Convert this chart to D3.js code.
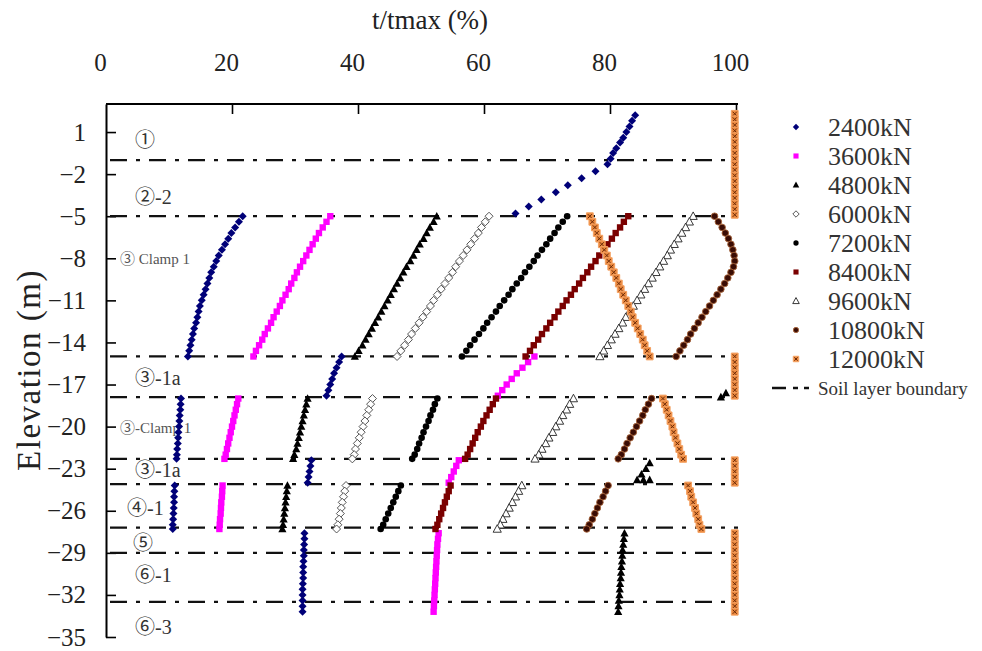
<!DOCTYPE html>
<html>
<head>
<meta charset="utf-8">
<script src="https://cdn.jsdelivr.net/npm/d3@7"></script>
<style>
  body { margin: 0; background: #fff; }
  svg { display: block; }
  svg text { font-family: "Liberation Serif", "Times New Roman", "Noto Sans CJK SC", serif; }
</style>
</head>
<body>
<svg width="982" height="651"></svg>
<script>
// ---- data ----
var loads = ['2400kN', '3600kN', '4800kN', '6000kN', '7200kN', '8400kN', '9600kN', '10800kN', '12000kN'];
var xTicks = [0, 20, 40, 60, 80, 100];
var yTicks = [1, -2, -5, -8, -11, -14, -17, -20, -23, -26, -29, -32, -35];
var boundaries = [-1.0, -5, -15, -17.9, -22.3, -24.1, -27.2, -29.0, -32.5];
var layerNames = ['①', '②-2', '③ Clamp 1', '③-1a', '③-Clamp 1', '③-1a', '④-1', '⑤', '⑥-1', '⑥-3'];
var layerElev = [0.4, -3.6, -8.0, -16.5, -20.1, -23.1, -25.8, -28.3, -30.6, -34.3];

// elevation of the measuring points (m)
var gTop2400 = [2.2, 1.8, 1.4, 1.0, 0.6, 0.25, -0.15, -0.5, -0.9, -1.3, -1.8, -2.3, -2.8, -3.3, -3.8, -4.3, -4.8];
var gTop12000 = [2.3, 1.9, 1.5, 1.1, 0.7, 0.3, -0.1, -0.5, -0.9, -1.3, -1.7, -2.1, -2.5, -2.9, -3.3, -3.7, -4.1, -4.5, -4.9];
var gL3 = [-5.0, -5.4, -5.8, -6.2, -6.6, -7.0, -7.4, -7.8, -8.2, -8.6, -9.0, -9.4, -9.8, -10.2, -10.6, -11.0, -11.4, -11.8, -12.2, -12.6, -13.0, -13.4, -13.8, -14.2, -14.6, -15.0];
var gL4 = [-15.0, -15.4, -15.8, -16.2, -16.6, -17.0, -17.4, -17.8];
var gL5 = [-18.0, -18.4, -18.8, -19.2, -19.6, -20.0, -20.4, -20.8, -21.2, -21.6, -22.0, -22.3];
var gL6 = [-22.4, -22.8, -23.2, -23.6, -24.0];
var gL7 = [-24.2, -24.6, -25.0, -25.4, -25.8, -26.2, -26.6, -27.0, -27.3];
var gL89 = [-27.6, -28.0, -28.4, -28.8, -29.2, -29.6, -30.0, -30.4, -30.8, -31.2, -31.6, -32.0, -32.4, -32.8, -33.2];
var g4800L4 = [-17.6, -17.9];
var g4800L6 = [-22.6, -23.0, -23.4, -23.8, -23.8, -23.8];

// t/tmax (%) for each load, one list per layer
var s2400 = [
  [gTop2400, [84.0, 83.5, 83.1, 82.6, 82.1, 81.6, 81.0, 80.5, 80.1, 79.6, 77.7, 75.5, 73.3, 71.4, 69.1, 67.1, 65.0]],
  [gL3, [21.7, 21.1, 20.5, 19.9, 19.4, 18.9, 18.4, 17.9, 17.5, 17.1, 16.7, 16.4, 16.1, 15.8, 15.5, 15.2, 14.9, 14.7, 14.5, 14.3, 14.0, 13.8, 13.6, 13.4, 13.2, 13.0]],
  [gL4, [37.4, 37.0, 36.6, 36.2, 35.9, 35.6, 35.3, 35.0]],
  [gL5, [11.9, 11.85, 11.8, 11.7, 11.65, 11.6, 11.5, 11.45, 11.4, 11.3, 11.25, 11.2]],
  [gL6, [32.6, 32.45, 32.3, 32.15, 32.0]],
  [gL7, [10.9, 10.85, 10.8, 10.8, 10.75, 10.7, 10.65, 10.6, 10.6]],
  [gL89, [31.5, 31.5, 31.45, 31.4, 31.4, 31.35, 31.3, 31.3, 31.3, 31.25, 31.2, 31.2, 31.2, 31.2, 31.2]]
];
var s3600 = [
  [gL3, [35.6, 35.0, 34.4, 33.8, 33.3, 32.8, 32.3, 31.8, 31.3, 30.8, 30.3, 29.9, 29.4, 29.0, 28.5, 28.0, 27.6, 27.1, 26.6, 26.2, 25.7, 25.2, 24.8, 24.3, 23.8, 23.4]],
  [gL4, [68.0, 67.0, 66.1, 65.2, 64.4, 63.6, 62.9, 62.2]],
  [gL5, [21.0, 20.8, 20.6, 20.4, 20.2, 20.0, 19.8, 19.6, 19.4, 19.2, 19.0, 18.8]],
  [gL6, [56.0, 55.6, 55.2, 54.8, 54.4]],
  [gL7, [18.5, 18.45, 18.4, 18.3, 18.25, 18.2, 18.1, 18.05, 18.0]],
  [gL89, [52.8, 52.7, 52.6, 52.55, 52.5, 52.45, 52.4, 52.35, 52.3, 52.25, 52.2, 52.15, 52.1, 52.05, 52.0]]
];
var s4800 = [
  [gL3, [52.5, 52.0, 51.4, 50.9, 50.4, 49.8, 49.3, 48.8, 48.3, 47.7, 47.2, 46.7, 46.2, 45.7, 45.2, 44.7, 44.2, 43.7, 43.2, 42.7, 42.2, 41.7, 41.2, 40.7, 40.1, 39.5]],
  [g4800L4, [98.4, 97.6]],
  [gL5, [32.0, 31.8, 31.6, 31.4, 31.2, 31.0, 30.8, 30.6, 30.4, 30.2, 29.9, 29.7]],
  [g4800L6, [86.3, 85.7, 85.0, 84.3, 85.3, 86.3]],
  [gL7, [28.8, 28.7, 28.6, 28.5, 28.4, 28.3, 28.2, 28.1, 28.0]],
  [gL89, [82.3, 82.2, 82.1, 82.0, 81.95, 81.9, 81.8, 81.75, 81.7, 81.6, 81.55, 81.5, 81.4, 81.35, 81.3]]
];
var s6000 = [
  [gL3, [60.8, 60.2, 59.6, 59.1, 58.5, 57.9, 57.3, 56.7, 56.1, 55.5, 55.0, 54.4, 53.8, 53.2, 52.6, 52.0, 51.5, 50.9, 50.3, 49.7, 49.1, 48.5, 48.0, 47.4, 46.8, 46.2]],
  [gL5, [42.3, 42.0, 41.7, 41.4, 41.1, 40.8, 40.5, 40.2, 39.9, 39.6, 39.4, 39.1]],
  [gL7, [38.1, 37.9, 37.7, 37.5, 37.35, 37.2, 37.0, 36.8, 36.6]]
];
var s7200 = [
  [gL3, [73.2, 72.5, 71.8, 71.2, 70.5, 69.9, 69.2, 68.5, 67.9, 67.2, 66.5, 65.9, 65.2, 64.5, 63.9, 63.2, 62.5, 61.9, 61.2, 60.5, 59.9, 59.2, 58.5, 57.8, 57.2, 56.5]],
  [gL5, [52.6, 52.2, 51.9, 51.5, 51.2, 50.8, 50.4, 50.1, 49.7, 49.4, 49.0, 48.6]],
  [gL7, [46.8, 46.4, 46.0, 45.6, 45.2, 44.8, 44.4, 44.0, 43.6]]
];
var s8400 = [
  [gL3, [82.9, 82.2, 81.6, 80.9, 80.3, 79.6, 79.0, 78.3, 77.7, 77.0, 76.4, 75.7, 75.1, 74.4, 73.8, 73.1, 72.5, 71.8, 71.2, 70.5, 69.9, 69.2, 68.6, 67.9, 67.3, 66.6]],
  [gL5, [61.9, 61.4, 60.9, 60.4, 59.9, 59.5, 59.0, 58.6, 58.2, 57.8, 57.4, 57.0]],
  [gL7, [54.7, 54.4, 54.1, 53.8, 53.5, 53.2, 52.9, 52.6, 52.3]]
];
var s9600 = [
  [gL3, [93.2, 92.6, 92.0, 91.4, 90.8, 90.2, 89.6, 89.1, 88.5, 87.9, 87.3, 86.7, 86.1, 85.5, 84.9, 84.3, 83.7, 83.1, 82.5, 82.0, 81.4, 80.8, 80.2, 79.6, 79.0, 78.4]],
  [gL5, [74.2, 73.6, 73.1, 72.5, 72.0, 71.4, 70.9, 70.3, 69.8, 69.2, 68.7, 68.1]],
  [gL7, [66.0, 65.5, 65.0, 64.5, 64.0, 63.5, 63.0, 62.6, 62.1]]
];
var s10800 = [
  [gL3, [96.6, 97.2, 97.8, 98.3, 98.8, 99.2, 99.5, 99.7, 99.8, 99.6, 99.2, 98.7, 98.2, 97.6, 97.0, 96.4, 95.8, 95.2, 94.6, 94.0, 93.4, 92.8, 92.3, 91.7, 91.1, 90.5]],
  [gL5, [86.6, 86.1, 85.6, 85.2, 84.7, 84.2, 83.7, 83.2, 82.7, 82.3, 81.8, 81.3]],
  [gL7, [79.7, 79.3, 78.9, 78.4, 78.0, 77.6, 77.2, 76.7, 76.3]]
];
var s12000 = [
  [gTop12000, [99.8, 99.8, 99.8, 99.8, 99.8, 99.8, 99.8, 99.8, 99.8, 99.8, 99.8, 99.8, 99.8, 99.8, 99.8, 99.8, 99.8, 99.8, 99.8]],
  [gL3, [76.8, 77.2, 77.6, 77.9, 78.3, 78.7, 79.1, 79.5, 79.8, 80.2, 80.6, 81.0, 81.4, 81.7, 82.1, 82.5, 82.9, 83.3, 83.6, 84.0, 84.4, 84.8, 85.2, 85.5, 85.9, 86.3]],
  [gL4, [99.8, 99.8, 99.8, 99.8, 99.8, 99.8, 99.8, 99.8]],
  [gL5, [88.4, 88.7, 89.0, 89.3, 89.6, 89.9, 90.1, 90.4, 90.7, 91.0, 91.3, 91.6]],
  [gL6, [99.8, 99.8, 99.8, 99.8, 99.8]],
  [gL7, [92.4, 92.7, 92.9, 93.2, 93.5, 93.7, 94.0, 94.2, 94.5]],
  [gL89, [99.8, 99.8, 99.8, 99.8, 99.8, 99.8, 99.8, 99.8, 99.8, 99.8, 99.8, 99.8, 99.8, 99.8, 99.8]]
];
var allSeries = [s2400, s3600, s4800, s6000, s7200, s8400, s9600, s10800, s12000];

// ---- look ----
var styles = [
  { shape: 'diamond', fill: '#000078', stroke: 'none' },
  { shape: 'square', fill: '#ff00ff', stroke: 'none' },
  { shape: 'triangle', fill: '#000', stroke: 'none' },
  { shape: 'diamond', fill: '#fff', stroke: '#444' },
  { shape: 'circle', fill: '#000', stroke: 'none' },
  { shape: 'square', fill: '#7a0000', stroke: 'none' },
  { shape: 'triangle', fill: '#fff', stroke: '#222' },
  { shape: 'circle', fill: '#3a0c04', stroke: '#a8643a' },
  { shape: 'xsquare', fill: '#ec8a40', stroke: '#6b2a08' }
];

var svg = d3.select('svg');
var x = d3.scaleLinear().domain([0, 100]).range([106, 736]);
var y = d3.scaleLinear().domain([3, -35]).range([104, 637]);
var serif = '"Liberation Serif", "Times New Roman", serif';

function markerPath(shape, r) {
  if (shape === 'diamond') return 'M0,' + (-r) + 'L' + r + ',0L0,' + r + 'L' + (-r) + ',0Z';
  if (shape === 'square' || shape === 'xsquare') return 'M' + (-r) + ',' + (-r) + 'h' + 2 * r + 'v' + 2 * r + 'h' + (-2 * r) + 'Z';
  if (shape === 'triangle') return 'M0,' + (-r) + 'L' + (r * 0.95) + ',' + (r * 0.75) + 'L' + (-r * 0.95) + ',' + (r * 0.75) + 'Z';
  return d3.symbol(d3.symbolCircle, Math.PI * r * r)();
}
var markerR = { diamond: 4, square: 3.2, triangle: 4.3, circle: 3.3, xsquare: 3.4 };

function drawMarker(g, st, scale) {
  var r = markerR[st.shape] * scale;
  g.append('path')
    .attr('d', markerPath(st.shape, r))
    .attr('fill', st.fill)
    .attr('stroke', st.shape === 'xsquare' ? '#f4a060' : st.stroke)
    .attr('stroke-width', st.shape === 'xsquare' ? 1 : 0.9);
  if (st.shape === 'xsquare') {
    var k = r * 0.6;
    g.append('path')
      .attr('d', 'M' + (-k) + ',' + (-k) + 'L' + k + ',' + k + 'M' + k + ',' + (-k) + 'L' + (-k) + ',' + k)
      .attr('stroke', st.stroke).attr('stroke-width', 1).attr('fill', 'none');
  }
}

// ---- axes ----
var topAxis = d3.axisTop(x).tickValues(xTicks).tickSize(-10).tickSizeOuter(0).tickPadding(33);
var gx = svg.append('g').attr('transform', 'translate(0,104)').call(topAxis);
gx.select('.domain').attr('d', 'M106,0H738').attr('stroke-width', 2);
gx.selectAll('.tick line').attr('stroke-width', 1.6);
gx.selectAll('.tick text').style('font-family', serif).style('font-size', '25px').attr('fill', '#222').attr('dx', -6);
gx.selectAll('.tick').filter(function (d) { return d === 0; }).select('line').remove();

var leftAxis = d3.axisLeft(y).tickValues(yTicks).tickSize(-10).tickSizeOuter(0).tickPadding(20);
var gy = svg.append('g').attr('transform', 'translate(106,0)').call(leftAxis);
gy.select('.domain').attr('stroke-width', 2);
gy.selectAll('.tick line').attr('stroke-width', 1.6);
gy.selectAll('.tick text').style('font-family', serif).style('font-size', '25px').attr('fill', '#222');

svg.append('text').attr('x', 430).attr('y', 29).attr('text-anchor', 'middle')
  .style('font-family', serif).style('font-size', '27px').attr('fill', '#222').text('t/tmax (%)');
svg.append('text').attr('transform', 'translate(40,370) rotate(-90)').attr('text-anchor', 'middle')
  .style('font-family', serif).style('font-size', '33px').style('letter-spacing', '1.5px')
  .attr('fill', '#222').text('Elevation (m)');

// ---- soil layer boundaries ----
svg.append('g').selectAll('line').data(boundaries).join('line')
  .attr('x1', 110).attr('x2', 738)
  .attr('y1', function (d) { return y(d); }).attr('y2', function (d) { return y(d); })
  .attr('stroke', '#111').attr('stroke-width', 2.2)
  .attr('stroke-dasharray', '17,9,4,9');

// ---- layer names ----
var layerX = [135, 135, 120, 135, 120, 135, 127, 133, 135, 135];
var lab = svg.append('g');
layerNames.forEach(function (name, i) {
  var small = name.indexOf('Clamp') >= 0;
  lab.append('text')
    .attr('x', layerX[i]).attr('y', y(layerElev[i]))
    .attr('dy', '0.35em')
    .style('font-family', '"Liberation Serif", "Noto Sans CJK SC", serif')
    .style('font-size', small ? '15px' : '20px')
    .attr('fill', small ? '#555' : '#333')
    .text(name);
});

// ---- data points ----
allSeries.forEach(function (segs, si) {
  var pts = [];
  segs.forEach(function (seg) {
    seg[0].forEach(function (e, k) { pts.push([seg[1][k], e]); });
  });
  var g = svg.append('g');
  pts.forEach(function (p) {
    drawMarker(g.append('g').attr('transform', 'translate(' + x(p[0]) + ',' + y(p[1]) + ')'), styles[si], 1);
  });
});

// ---- legend ----
var leg = svg.append('g');
loads.forEach(function (name, i) {
  var row = leg.append('g').attr('transform', 'translate(796,' + (127 + i * 29) + ')');
  drawMarker(row, styles[i], 0.8);
  row.append('text').attr('x', 32).attr('dy', '0.35em')
    .style('font-family', serif).style('font-size', '26px').attr('fill', '#333').text(name);
});
var soilRow = leg.append('g').attr('transform', 'translate(0,' + (127 + 9 * 29) + ')');
soilRow.append('line').attr('x1', 772).attr('x2', 812).attr('stroke', '#111').attr('stroke-width', 2.4)
  .attr('stroke-dasharray', '14,7,5,6,5,20');
soilRow.append('text').attr('x', 818).attr('dy', '0.35em')
  .style('font-family', serif).style('font-size', '19px').attr('fill', '#333').text('Soil layer boundary');
</script>
</body>
</html>
